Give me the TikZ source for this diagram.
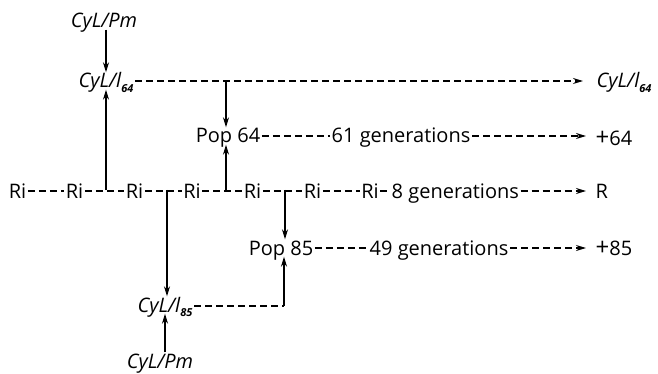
\documentclass[tikz,border=0pt]{standalone}
\usepackage{fontspec}
\setmainfont{Open Sans}
\usetikzlibrary{arrows.meta}
\newcommand{\lsub}[1]{\raisebox{-0.4ex}{\fontsize{11}{11}\selectfont\bfseries #1}}
\begin{document}
\begin{tikzpicture}[x=1pt,y=-1pt,
  lbl/.style={inner sep=1.5pt, text height=14pt, text depth=0pt, font=\fontsize{20}{22}\selectfont},
  itl/.style={lbl, font=\fontsize{20}{22}\selectfont\itshape},
  dsh/.style={line width=1.4pt, dash pattern=on 7pt off 4pt},
  sol/.style={line width=1.5pt},
  tip/.style={-{Stealth[length=10pt,width=6pt]}},
]
\useasboundingbox (0,0) rectangle (658,374);

% top left
\node[itl] (pmT) at (104,21) {CyL/Pm};
\node[itl] (c64) at (106,81) {CyL/l\lsub{64}};
\node[itl, anchor=west] (c64r) at (595,81) {CyL/l\lsub{64}};

% pop 64 row
\node[lbl] (pop64) at (228,136) {Pop 64};
\node[lbl, anchor=west] (gen61) at (330,136) {61 generations};
\node[lbl, anchor=west] (p64) at (594,139) {{\fontsize{24}{24}\selectfont +}64};

% Ri row
\node[lbl] (ri1) at (17.5,191) {Ri};
\node[lbl] (ri2) at (74.5,191) {Ri};
\node[lbl] (ri3) at (134.5,191) {Ri};
\node[lbl] (ri4) at (192,191) {Ri};
\node[lbl] (ri5) at (252.5,191) {Ri};
\node[lbl] (ri6) at (312.5,191) {Ri};
\node[lbl] (ri7) at (370,191) {Ri};
\node[lbl, anchor=west] (gen8) at (390,191) {8 generations};
\node[lbl, anchor=west] (R) at (594,191) {R};

% pop 85 row
\node[lbl] (pop85) at (281,248) {Pop 85};
\node[lbl, anchor=west] (gen49) at (368,248) {49 generations};
\node[lbl, anchor=west] (p85) at (594,248) {{\fontsize{24}{24}\selectfont +}85};

% bottom
\node[itl] (c85) at (165,305) {CyL/l\lsub{85}};
\node[itl] (pmB) at (160,361) {CyL/Pm};

% junctions
\coordinate (j1) at (106,190);
\coordinate (j2) at (167,190);
\coordinate (j3) at (226,190);
\coordinate (j4) at (226,81);
\coordinate (j5) at (285,190);
\coordinate (j6) at (284,306);

% dashed connections
\draw[dsh, tip, shorten >=12pt] (c64.east) -- (c64r.west);
\draw[dsh] (pop64.east) -- (gen61.west);
\draw[dsh, tip, shorten >=8pt] (gen61.east) -- (p64.west |- gen61.east);
\draw[dsh] (ri1) -- (ri2);
\draw[dsh] (ri2) -- (ri3);
\draw[dsh] (ri3) -- (ri4);
\draw[dsh] (ri4) -- (ri5);
\draw[dsh] (ri5) -- (ri6);
\draw[dsh] (ri6) -- (ri7);
\draw[dsh] (ri7) -- (gen8);
\draw[dsh, tip, shorten >=8pt] (gen8) -- (R);
\draw[dsh] (pop85) -- (gen49);
\draw[dsh, tip, shorten >=8pt] (gen49) -- (p85);
\draw[dsh] (c85.east |- j6) -- (j6);

% solid arrows
\draw[sol, tip] (pmT.south -| c64) -- (c64.north);
\draw[sol, tip] (j1) -- (c64.south -| j1);
\draw[sol, tip] (j2) -- (c85.north -| j2);
\draw[sol, tip] (j3) -- (pop64.south -| j3);
\draw[sol, tip] (j4) -- (pop64.north -| j4);
\draw[sol, tip] (j5) -- (pop85.north -| j5);
\draw[sol, tip] (j6) -- (pop85.south -| j6);
\draw[sol, tip] (pmB.north -| c85) -- (c85.south);
\end{tikzpicture}
\end{document}
